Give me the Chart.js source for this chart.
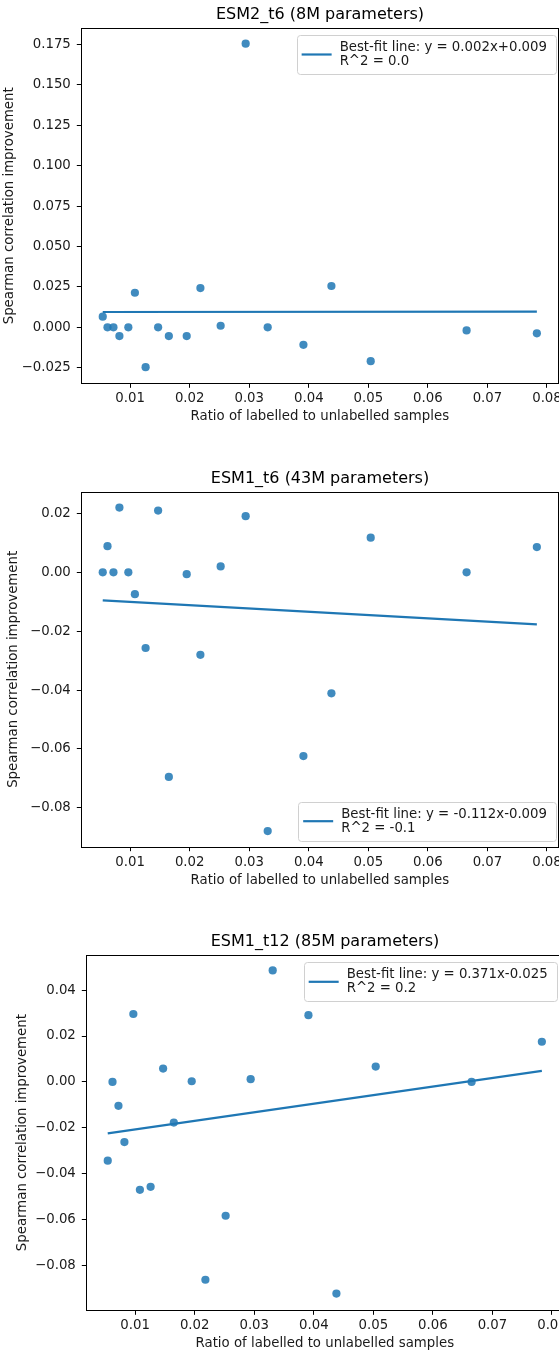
<!DOCTYPE html>
<html>
<head>
<meta charset="utf-8">
<script src="https://cdn.jsdelivr.net/npm/chart.js@4.4.0/dist/chart.umd.min.js"></script>
<style>
html, body { margin: 0; padding: 0; background: #fff; overflow: hidden; }
body { width: 559px; height: 1353px; position: relative; }
canvas { position: absolute; left: 0; }
</style>
</head>
<body>
<canvas id="c1"></canvas>
<canvas id="c2"></canvas>
<canvas id="c3"></canvas>
<script>
// ratio of labelled to unlabelled samples, same for all three models
const ratios = [0.0054, 0.0062, 0.0072, 0.0082, 0.0097, 0.0108, 0.0126, 0.0147, 0.0165, 0.0195,
                0.0218, 0.0252, 0.0294, 0.0331, 0.0391, 0.0438, 0.0504, 0.0665, 0.0783];

// spearman correlation improvement per model
const esm2_t6  = [0.0066, 0, 0, -0.0054, 0, 0.0214, -0.0246, 0, -0.0054, -0.0054,
                  0.0243, 0.0010, 0.1755, 0, -0.0108, 0.0256, -0.0209, -0.0019, -0.0037];
const esm1_t6  = [0, 0.0089, 0, 0.0220, 0, -0.0074, -0.0257, 0.0210, -0.0695, -0.0006,
                  -0.0280, 0.0020, 0.0191, -0.0879, -0.0624, -0.0411, 0.0118, 0, 0.0086];
const esm1_t12 = [-0.0343, 0, -0.0104, -0.0262, 0.0296, -0.0470, -0.0457, 0.0058, -0.0177, 0.0003,
                  -0.0862, -0.0583, 0.0012, 0.0486, 0.0291, -0.0922, 0.0067, 0, 0.0175];

// best-fit line end points
const fitX = [0.0054, 0.0783];
const fit_esm2_t6 = [0.0095, 0.0097];
const fit_esm1_t6 = [-0.0095, -0.0177];
const fit_esm1_t12 = [-0.0224, 0.0048];

const titles = ['ESM2_t6 (8M parameters)', 'ESM1_t6 (43M parameters)', 'ESM1_t12 (85M parameters)'];
const legendText = [
    ['Best-fit line: y = 0.002x+0.009', 'R^2 = 0.0'],
    ['Best-fit line: y = -0.112x-0.009', 'R^2 = -0.1'],
    ['Best-fit line: y = 0.371x-0.025', 'R^2 = 0.2']
];

// axis ranges and ticks
const xRange = [0.0018, 0.0819];
const xTicks = [0.01, 0.02, 0.03, 0.04, 0.05, 0.06, 0.07, 0.08];
const yRange1 = [-0.0346, 0.1850];
const yRange2 = [-0.0932, 0.0273];
const yRange3 = [-0.0995, 0.0553];
const yTicks1 = [-0.025, 0, 0.025, 0.05, 0.075, 0.1, 0.125, 0.15, 0.175];
const yTicks2 = [-0.08, -0.06, -0.04, -0.02, 0, 0.02];
const yTicks3 = [-0.08, -0.06, -0.04, -0.02, 0, 0.02, 0.04];

const blue = '#1f77b4';
const FONT = 'DejaVu Sans';
const FS = 13.3;
const LH = FS * 1.2;

Chart.defaults.font.family = FONT;
Chart.defaults.color = '#1a1a1a';

function fmt(v, d) {
    return v.toFixed(d).replace('-', '\u2212');
}

// box around the axes
const frame = {
    id: 'frame',
    afterDatasetsDraw(chart) {
        const {ctx, chartArea: a} = chart;
        ctx.save();
        ctx.strokeStyle = '#000';
        ctx.lineWidth = 1;
        ctx.strokeRect(Math.round(a.left) + 0.5, Math.round(a.top) + 0.5,
                       Math.round(a.right - a.left), Math.round(a.bottom - a.top));
        ctx.restore();
    }
};

// legend drawn inside the axes like matplotlib
const fitLegend = {
    id: 'fitLegend',
    afterDatasetsDraw(chart, args, opts) {
        const {ctx, chartArea: a} = chart;
        ctx.save();
        ctx.font = FS + 'px "' + FONT + '"';
        const tw = Math.max(...opts.lines.map(s => ctx.measureText(s).width));
        const w = tw + 52, h = 39;
        const x = a.right - opts.gapRight - w;
        const y = opts.corner === 'top' ? a.top + opts.gapY : a.bottom - opts.gapY - h;
        ctx.beginPath();
        ctx.roundRect(Math.round(x) + 0.5, Math.round(y) + 0.5, Math.round(w), h, 3);
        ctx.fillStyle = 'rgba(255,255,255,0.8)';
        ctx.fill();
        ctx.strokeStyle = '#d0d0d0';
        ctx.lineWidth = 1;
        ctx.stroke();
        ctx.beginPath();
        ctx.moveTo(x + 5, y + h / 2);
        ctx.lineTo(x + 35, y + h / 2);
        ctx.strokeStyle = blue;
        ctx.lineWidth = 2.2;
        ctx.stroke();
        ctx.fillStyle = '#1a1a1a';
        ctx.textBaseline = 'middle';
        ctx.textAlign = 'left';
        ctx.fillText(opts.lines[0], x + 43, y + 12.5);
        ctx.fillText(opts.lines[1], x + 43, y + 26.5);
        ctx.restore();
    }
};

function makeChart(id, lay, title, yVals, fitY, yRange, yTicks, yDec, legend) {
    // canvas is twice the axes centre wide so the title sits over the axes
    const W = Math.round(lay.l + lay.r);
    const H = lay.height;
    const cv = document.getElementById(id);
    cv.width = W;
    cv.height = H;
    cv.style.top = lay.top + 'px';

    const titleTop = (lay.titleY - lay.top) - 16 * 1.2 / 2;
    const titleBottom = (lay.t - lay.top) - titleTop - 16 * 1.2;

    return new Chart(cv, {
        type: 'scatter',
        data: {
            datasets: [{
                type: 'line',
                label: 'fit',
                data: fitX.map((x, i) => ({x: x, y: fitY[i]})),
                borderColor: blue,
                borderWidth: 2.2,
                pointRadius: 0,
                fill: false
            }, {
                label: 'points',
                data: ratios.map((x, i) => ({x: x, y: yVals[i]})),
                backgroundColor: 'rgba(31,119,180,0.85)',
                borderWidth: 0,
                pointRadius: 4.1
            }]
        },
        options: {
            responsive: false,
            animation: false,
            events: [],
            layout: {padding: 0},
            plugins: {
                legend: {display: false},
                tooltip: {enabled: false},
                title: {
                    display: true,
                    text: title,
                    color: '#000',
                    font: {size: 16, weight: 'normal'},
                    padding: {top: titleTop, bottom: titleBottom}
                },
                fitLegend: legend
            },
            scales: {
                x: {
                    type: 'linear',
                    min: xRange[0],
                    max: xRange[1],
                    afterBuildTicks: s => { s.ticks = xTicks.map(v => ({value: v})); },
                    afterFit: s => { s.height = lay.top + H - lay.b; },
                    ticks: {callback: v => fmt(v, 2), font: {size: FS}, padding: 2.9, maxRotation: 0, autoSkip: false},
                    grid: {drawOnChartArea: false, drawTicks: true, tickLength: 4.5, color: '#000'},
                    border: {display: false},
                    title: {
                        display: true,
                        text: 'Ratio of labelled to unlabelled samples',
                        font: {size: FS},
                        padding: {top: 0, bottom: lay.top + H - lay.xTitleY - LH / 2}
                    }
                },
                y: {
                    type: 'linear',
                    min: yRange[0],
                    max: yRange[1],
                    afterBuildTicks: s => { s.ticks = yTicks.map(v => ({value: v})); },
                    afterFit: s => { s.width = lay.l; },
                    ticks: {callback: v => fmt(v, yDec), font: {size: FS}, padding: 6, autoSkip: false},
                    grid: {drawOnChartArea: false, drawTicks: true, tickLength: 4.5, color: '#000'},
                    border: {display: false},
                    title: {
                        display: true,
                        text: 'Spearman correlation improvement',
                        font: {size: FS},
                        padding: {top: lay.yTitleX - LH / 2, bottom: 0}
                    }
                },
                // empty spacer on the right, keeps the axes where they are
                yRight: {
                    type: 'linear',
                    position: 'right',
                    min: yRange[0],
                    max: yRange[1],
                    afterFit: s => { s.width = W - lay.r; },
                    ticks: {display: false},
                    grid: {display: false},
                    border: {display: false}
                }
            }
        },
        plugins: [frame, fitLegend]
    });
}

const lay1 = {top: 0, height: 440, l: 81.3, t: 28.3, r: 558.3, b: 383.3, titleY: 15, yTitleX: 10, xTitleY: 417};
const lay2 = {top: 450, height: 440, l: 81.3, t: 492, r: 558.3, b: 846.7, titleY: 479, yTitleX: 14, xTitleY: 881};
const lay3 = {top: 900, height: 453, l: 86.3, t: 955, r: 563.3, b: 1310.3, titleY: 941.7, yTitleX: 22.5, xTitleY: 1343.3};

makeChart('c1', lay1, titles[0], esm2_t6, fit_esm2_t6, yRange1, yTicks1, 3,
          {lines: legendText[0], corner: 'top', gapRight: 2.3, gapY: 6.7});
makeChart('c2', lay2, titles[1], esm1_t6, fit_esm1_t6, yRange2, yTicks2, 2,
          {lines: legendText[1], corner: 'bottom', gapRight: 2.3, gapY: 6});
makeChart('c3', lay3, titles[2], esm1_t12, fit_esm1_t12, yRange3, yTicks3, 2,
          {lines: legendText[2], corner: 'top', gapRight: 6.6, gapY: 7.3});
</script>
</body>
</html>
